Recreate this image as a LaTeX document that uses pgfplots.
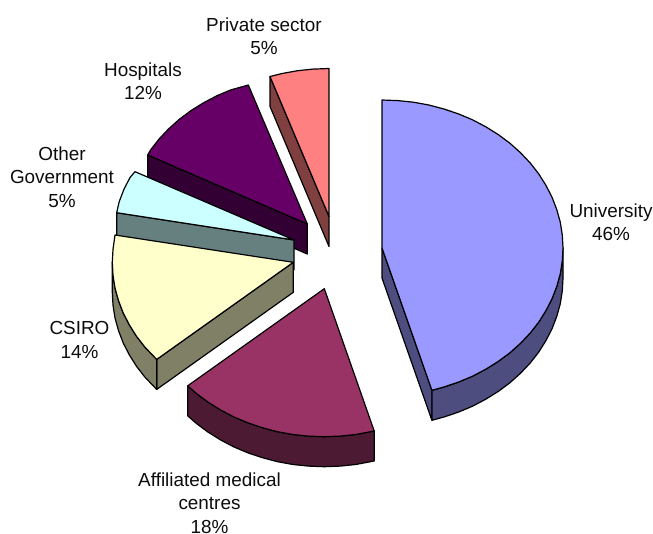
\documentclass[border=0pt]{standalone}
\usepackage{pgfplots}
\pgfplotsset{compat=1.18}
\usepackage{fontspec}
\setmainfont{Liberation Sans}
\definecolor{uT}{HTML}{9999FF}\definecolor{uS}{HTML}{4D4D80}
\definecolor{aT}{HTML}{993366}\definecolor{aS}{HTML}{4D1A33}
\definecolor{cT}{HTML}{FFFFCC}\definecolor{cS}{HTML}{808066}
\definecolor{oT}{HTML}{CCFFFF}\definecolor{oS}{HTML}{668080}
\definecolor{hT}{HTML}{660066}\definecolor{hS}{HTML}{330033}
\definecolor{pT}{HTML}{FF8080}\definecolor{pS}{HTML}{804040}
\tikzset{lab/.style={align=center, font=\fontsize{18.9bp}{23.3bp}\selectfont, inner sep=0pt, text=black!95}}
\begin{document}
\begin{tikzpicture}[x=1bp,y=1bp]
\begin{axis}[
  scale only axis, width=653bp, height=534bp,
  xmin=0, xmax=653, ymin=0, ymax=534, y dir=reverse,
  hide axis, clip=false,
  every axis plot/.append style={line width=1.2bp, line join=round}
]
\addplot[draw=none, fill=white] coordinates {(0,0)(653,0)(653,534)(0,534)} --cycle;

% Private sector
\addplot[fill=pS, draw=black] coordinates {(270,76.5)(329,216.5)(329,246.5)(270,106.5)} --cycle;
\addplot[fill=pT, draw=black] coordinates {(329,216.5)(270,76.5)(282.2,73.5)(297.6,70.7)(313.2,69.1)(329,68.5)} --cycle;

% Hospitals
\addplot[fill=hS, draw=black] coordinates {(147.7,155)(307.3,224)(307.3,254)(147.7,185)} --cycle;
\addplot[fill=hT, draw=black] coordinates {(307.3,224)(147.7,155)(150.5,150)(159,139.1)(168.6,128.9)(179.3,119.3)(191,110.6)(203.5,102.8)(216.8,95.8)(230.8,89.9)(248.3,85)} --cycle;

% Other Government
\addplot[fill=oS, draw=black] coordinates {(116.7,212.7)(294,240)(294,270)(116.7,242.7)} --cycle;
\addplot[fill=oT, draw=black] coordinates {(294,240)(116.7,212.7)(119.2,201.7)(123.9,189.4)(130,177.5)(135,171.7)} --cycle;

% CSIRO
\addplot[fill=cS, draw=black] coordinates {(293.3,262.3)(156.7,359.4)(156.7,389.4)(293.3,292.3)} --cycle;
\addplot[fill=cS, draw=black] coordinates {(156.7,359.4)(145,347.2)(136.5,336.3)(129.3,324.8)(123.2,312.9)(118.5,300.6)(115,288)(113,275.2)(112.3,262.3)(112.3,292.3)(113,305.2)(115,318)(118.5,330.6)(123.2,342.9)(129.3,354.8)(136.5,366.3)(145,377.2)(156.7,389.4)} --cycle;
\addplot[fill=cT, draw=black] coordinates {(293.3,262.3)(156.7,359.4)(145,347.2)(136.5,336.3)(129.3,324.8)(123.2,312.9)(118.5,300.6)(115,288)(113,275.2)(112.3,262.3)(113,249.4)(115,235)} --cycle;

% Affiliated medical centres
\addplot[fill=aS, draw=black] coordinates {(374.2,431)(355.7,434.5)(340.1,436.1)(324.3,436.7)(308.5,436.1)(292.9,434.5)(277.5,431.7)(262.4,427.7)(247.8,422.8)(233.8,416.9)(220.5,409.9)(208,402.1)(196.3,393.4)(187.7,385.8)(187.7,415.8)(196.3,423.4)(208,432.1)(220.5,439.9)(233.8,446.9)(247.8,452.8)(262.4,457.7)(277.5,461.7)(292.9,464.5)(308.5,466.1)(324.3,466.7)(340.1,466.1)(355.7,464.5)(374.2,461)} --cycle;
\addplot[fill=aT, draw=black] coordinates {(324.3,288.7)(374.2,431)(355.7,434.5)(340.1,436.1)(324.3,436.7)(308.5,436.1)(292.9,434.5)(277.5,431.7)(262.4,427.7)(247.8,422.8)(233.8,416.9)(220.5,409.9)(208,402.1)(196.3,393.4)(187.7,385.8)} --cycle;

% University
\addplot[fill=uS, draw=black] coordinates {(382,248)(431.9,390.3)(431.9,420.3)(382,278)} --cycle;
\addplot[fill=uS, draw=black] coordinates {(563,248)(562.3,260.9)(560.3,273.7)(556.8,286.3)(552.1,298.6)(546,310.5)(538.8,322)(530.3,332.9)(520.7,343.1)(510,352.7)(498.3,361.4)(485.8,369.2)(472.5,376.2)(458.5,382.1)(443.9,387)(431.9,390.3)(431.9,420.3)(443.9,417)(458.5,412.1)(472.5,406.2)(485.8,399.2)(498.3,391.4)(510,382.7)(520.7,373.1)(530.3,362.9)(538.8,352)(546,340.5)(552.1,328.6)(556.8,316.3)(560.3,303.7)(562.3,290.9)(563,278)} --cycle;
\addplot[fill=uT, draw=black] coordinates {(382,248)(382,100)(397.8,100.6)(413.4,102.2)(428.8,105)(443.9,109)(458.5,113.9)(472.5,119.8)(485.8,126.8)(498.3,134.6)(510,143.3)(520.7,152.9)(530.3,163.1)(538.8,174)(546,185.5)(552.1,197.4)(556.8,209.7)(560.3,222.3)(562.3,235.1)(563,248)(562.3,260.9)(560.3,273.7)(556.8,286.3)(552.1,298.6)(546,310.5)(538.8,322)(530.3,332.9)(520.7,343.1)(510,352.7)(498.3,361.4)(485.8,369.2)(472.5,376.2)(458.5,382.1)(443.9,387)(431.9,390.3)} --cycle;

\node[lab] at (axis cs:264,36) {Private sector\\5\%};
\node[lab] at (axis cs:143,81) {Hospitals\\12\%};
\node[lab] at (axis cs:62,177) {Other\\Government\\5\%};
\node[lab] at (axis cs:79.5,340) {CSIRO\\14\%};
\node[lab] at (axis cs:209.5,503) {Affiliated medical\\centres\\18\%};
\node[lab] at (axis cs:611,222.5) {University\\46\%};
\end{axis}
\end{tikzpicture}
\end{document}
